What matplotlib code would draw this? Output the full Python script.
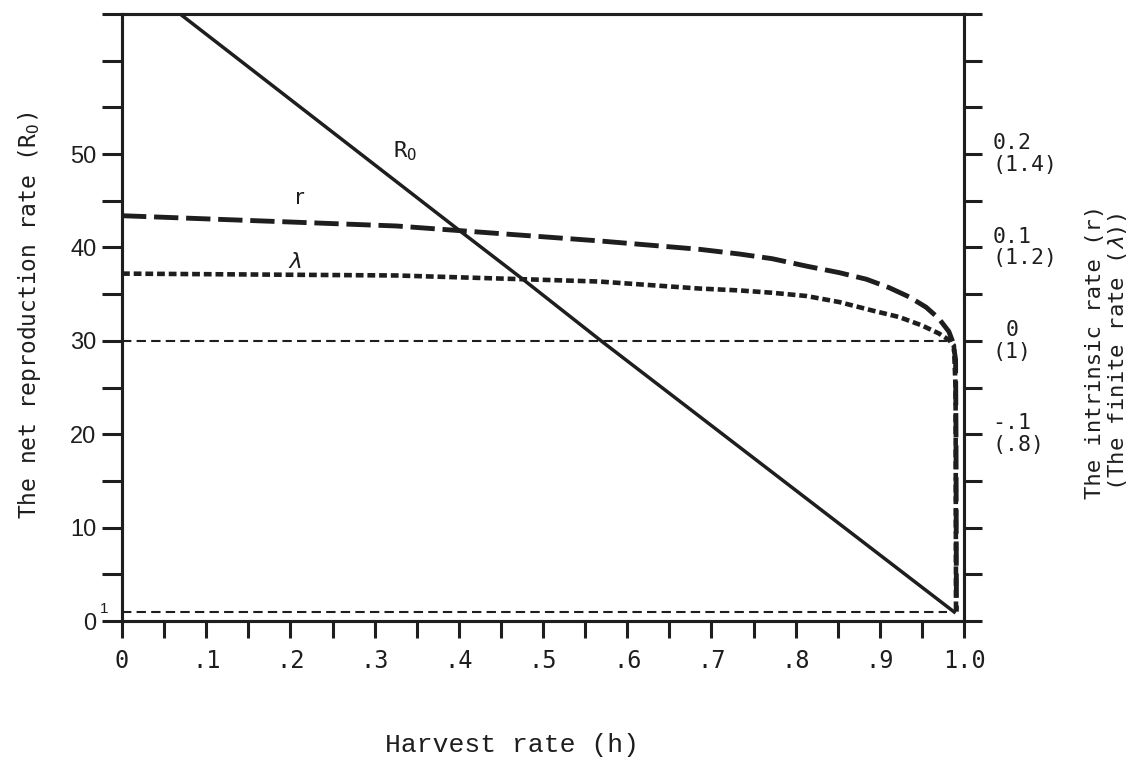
import numpy as np
import matplotlib
matplotlib.use("Agg")
from matplotlib import pyplot as plt

plt.rcParams['mathtext.fontset'] = 'custom'
plt.rcParams['mathtext.rm'] = 'DejaVu Sans Mono'
plt.rcParams['mathtext.it'] = 'DejaVu Sans Mono:italic'

INK = '#1e1e1e'

# --- data ---
# net reproduction rate R0 (left axis)
h_r0 = [0.069, 0.401, 0.476, 0.569, 0.99]
r0_vals = [65.0, 41.8, 36.6, 30.0, 0.85]

# intrinsic rate r (right axis)
h_r = [0.0, 0.326, 0.567, 0.686, 0.733, 0.772, 0.813, 0.852, 0.884, 0.911,
       0.935, 0.955, 0.970, 0.982, 0.987, 0.990, 0.9905, 0.991]
r_vals = [0.134, 0.123, 0.107, 0.098, 0.093, 0.088, 0.080, 0.073, 0.066,
          0.057, 0.047, 0.036, 0.024, 0.010, -0.002, -0.02, -0.10, -0.29]

# finite rate lambda (right axis, bracketed scale)
h_lam = [0.0, 0.326, 0.476, 0.567, 0.686, 0.733, 0.772, 0.813, 0.852,
         0.891, 0.923, 0.950, 0.970, 0.982, 0.988, 0.990, 0.9905]
lam_vals = [1.144, 1.140, 1.132, 1.127, 1.112, 1.108, 1.103, 1.096, 1.083,
            1.065, 1.051, 1.033, 1.016, 1.002, 0.99, 0.90, 0.42]

# reference lines: r = 0 (lambda = 1) and R0 = 1
h_ref = [0.0, 0.98]
r_zero = [0.0, 0.0]
r0_one = [1.0, 1.0]

x_ticks = np.round(np.arange(0, 1.0001, 0.05), 2)
x_labels = ['0', '.1', '.2', '.3', '.4', '.5', '.6', '.7', '.8', '.9', '1.0']
left_ticks = np.arange(0, 66, 5)
right_ticks = np.round(np.arange(-0.30, 0.351, 0.05), 2)
right_label_pos = [-0.1, 0.0, 0.1, 0.2]
right_labels = ['-.1\n(.8)', ' 0\n(1)', '0.1\n(1.2)', '0.2\n(1.4)']

fig = plt.figure(figsize=(11.4, 7.6), dpi=100)
ax = fig.add_axes([122 / 1140, 1 - 621 / 760, (964 - 122) / 1140, (621 - 14) / 760])
ax.set_xlim(0, 1.0)
ax.set_ylim(0, 65)

# R0 solid line
ax.plot(h_r0, r0_vals, color=INK, lw=2.5, solid_capstyle='butt')
ax.plot(h_ref, r0_one, color=INK, lw=1.5, linestyle=(0, (4.5, 2.5)))

# right axis for r
ax2 = ax.twinx()
ax2.set_ylim(-0.30, 0.35)
ax2.plot(h_r, r_vals, color=INK, lw=3.5, linestyle=(0, (5, 1.6)),
         dash_capstyle='butt')
ax2.plot(h_ref, r_zero, color=INK, lw=1.5, linestyle=(0, (4.5, 2.5)))

# hidden axis for lambda (lambda = 1 + 2 r on the drawn scale)
ax3 = ax.twinx()
ax3.set_ylim(0.4, 1.7)
ax3.plot(h_lam, lam_vals, color=INK, lw=3.3, linestyle=(0, (1.7, 0.85)),
         dash_capstyle='butt')
ax3.axis('off')

# ticks and spines
for a in (ax, ax2):
    for s in a.spines.values():
        s.set_linewidth(2.2)
        s.set_color(INK)

ax.set_xticks(x_ticks)
ax.set_xticklabels([x_labels[i // 2] if i % 2 == 0 else '' for i in range(len(x_ticks))],
                   family='DejaVu Sans Mono', fontsize=17)
ax.tick_params(axis='x', direction='out', length=12.5, width=2.2, color=INK,
               pad=8, labelcolor=INK)
ax.set_yticks(left_ticks)
ax.set_yticklabels([str(v) if (v % 10 == 0 and v <= 50) else '' for v in left_ticks],
                   family='Liberation Sans', fontsize=17)
ax.tick_params(axis='y', direction='out', length=14.5, width=2.2, color=INK,
               pad=4, labelcolor=INK)

ax2.set_yticks(right_ticks)
ax2.set_yticklabels([''] * len(right_ticks))
ax2.tick_params(axis='y', direction='out', length=13, width=2.2, color=INK)
for pos, lab in zip(right_label_pos, right_labels):
    ax2.text(1.034, pos, lab, transform=ax2.get_yaxis_transform(),
             ha='left', va='center', family='DejaVu Sans Mono', fontsize=15.5,
             color=INK, linespacing=1.1)

# small "1" marking the R0 = 1 line
ax.text(-0.016, 1.3, '1', transform=ax.get_yaxis_transform(), ha='right',
        va='center', fontsize=11, family='Liberation Sans', color=INK)

# curve labels
ax.text(0.336, 50.3, r'R$_\mathrm{O}$', fontsize=16, family='DejaVu Sans Mono',
        ha='center', va='center', color=INK)
ax.text(0.211, 45.3, 'r', fontsize=16, family='DejaVu Sans', ha='center',
        va='center', color=INK)
ax.text(0.205, 38.4, r'$\lambda$', fontsize=16, ha='center', va='center',
        color=INK)

# axis titles
fig.text(30 / 1140, 1 - 315 / 760, r'The net reproduction rate (R$_\mathrm{O}$)',
         rotation=90, ha='center', va='center', family='DejaVu Sans Mono',
         fontsize=16.5, color=INK)
fig.text(1107 / 1140, 1 - 352 / 760,
         'The intrinsic rate (r)\n(The finite rate ($\\lambda$))',
         rotation=90, ha='center', va='center', family='DejaVu Sans Mono',
         fontsize=16, color=INK, linespacing=1.05)
fig.text(512 / 1140, 1 - 745 / 760, 'Harvest rate (h)', ha='center',
         va='center', family='Liberation Mono', fontsize=19, color=INK)

fig.savefig('out.png', dpi=100, facecolor='white')
